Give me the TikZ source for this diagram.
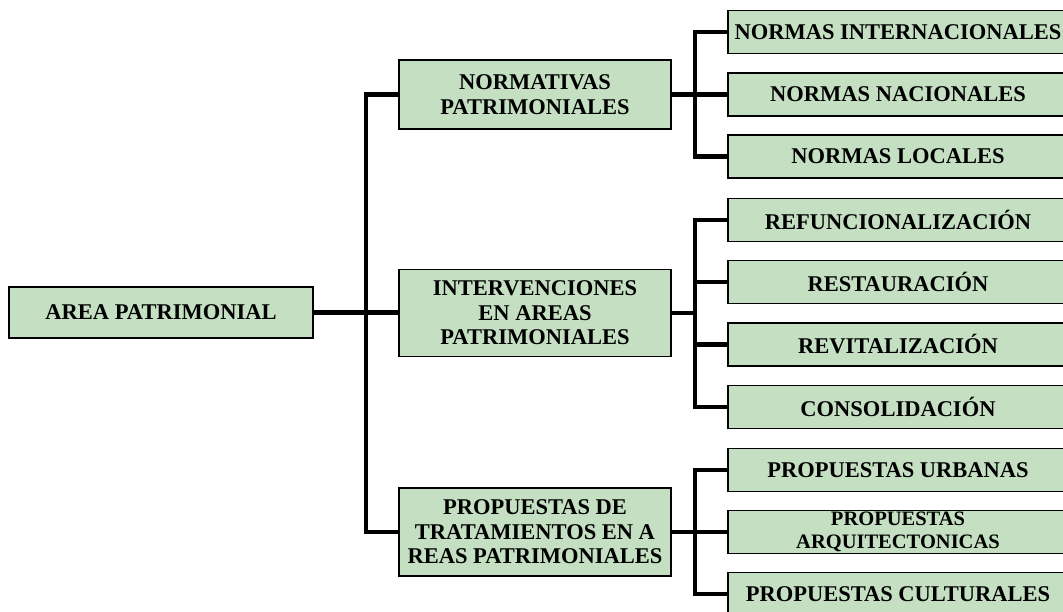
\documentclass[tikz,border=0pt]{standalone}
\usepackage{fontspec}
\setmainfont{Liberation Serif}
\definecolor{boxgreen}{RGB}{196,223,194}
\begin{document}
\begin{tikzpicture}[x=1pt,y=-1pt,
  box/.style={draw=black, line width=1.5pt, fill=boxgreen, rectangle, inner sep=0pt,
    align=center, font=\bfseries\fontsize{22.5}{24.5}\selectfont},
  conn/.style={line width=4.5pt, line join=miter, line cap=butt}]
\useasboundingbox (0,0) rectangle (1063,611);
\clip (0,0) rectangle (1063,611);
% root
\node[box, minimum width=304pt, minimum height=51pt] (root) at (161,312.5) {AREA PATRIMONIAL};
% level 2
\node[box, minimum width=272pt, minimum height=69pt] (nor) at (535,94.5) {NORMATIVAS\\PATRIMONIALES};
\node[box, minimum width=272pt, minimum height=87pt] (int) at (535,313) {INTERVENCIONES\\EN AREAS\\PATRIMONIALES};
\node[box, minimum width=272pt, minimum height=88pt] (pro) at (535,532) {PROPUESTAS DE\\TRATAMIENTOS EN A\\REAS PATRIMONIALES};
% level 3
\tikzset{leaf/.style={box, minimum width=340pt, minimum height=43pt}}
\node[leaf] (n1) at (898,32) {NORMAS INTERNACIONALES};
\node[leaf] (n2) at (898,94.5) {NORMAS NACIONALES};
\node[leaf] (n3) at (898,156.5) {NORMAS LOCALES};
\node[leaf] (i1) at (898,220) {REFUNCIONALIZACIÓN};
\node[leaf] (i2) at (898,282) {RESTAURACIÓN};
\node[leaf] (i3) at (898,344.5) {REVITALIZACIÓN};
\node[leaf] (i4) at (898,407) {CONSOLIDACIÓN};
\node[leaf] (p1) at (898,470) {PROPUESTAS URBANAS};
\node[leaf, font=\bfseries\fontsize{20.5}{23.5}\selectfont] (p2) at (898,532) {PROPUESTAS\\ARQUITECTONICAS};
\node[leaf] (p3) at (898,594) {PROPUESTAS CULTURALES};
% bus coordinates
\coordinate (t0) at (366,312.5);
\coordinate (tn) at (695,94.5);
\coordinate (ti) at (695,313);
\coordinate (tp) at (695,532);
% connectors level 1
\draw[conn] (root.east) -- (t0);
\draw[conn] (nor.west) -| (t0) |- (pro.west);
\draw[conn] (t0) -- (t0 -| int.west);
% connectors normativas
\draw[conn] (nor.east) -- (tn -| n2.west);
\draw[conn] (n1.west) -| (tn) |- (n3.west);
% connectors intervenciones
\draw[conn] (int.east) -- (ti);
\draw[conn] (i1.west) -| (ti) |- (i4.west);
\draw[conn] (i2.west) -| (ti);
\draw[conn] (i3.west) -| (ti);
% connectors propuestas
\draw[conn] (pro.east) -- (tp -| p2.west);
\draw[conn] (p1.west) -| (tp) |- (p3.west);
\end{tikzpicture}
\end{document}
